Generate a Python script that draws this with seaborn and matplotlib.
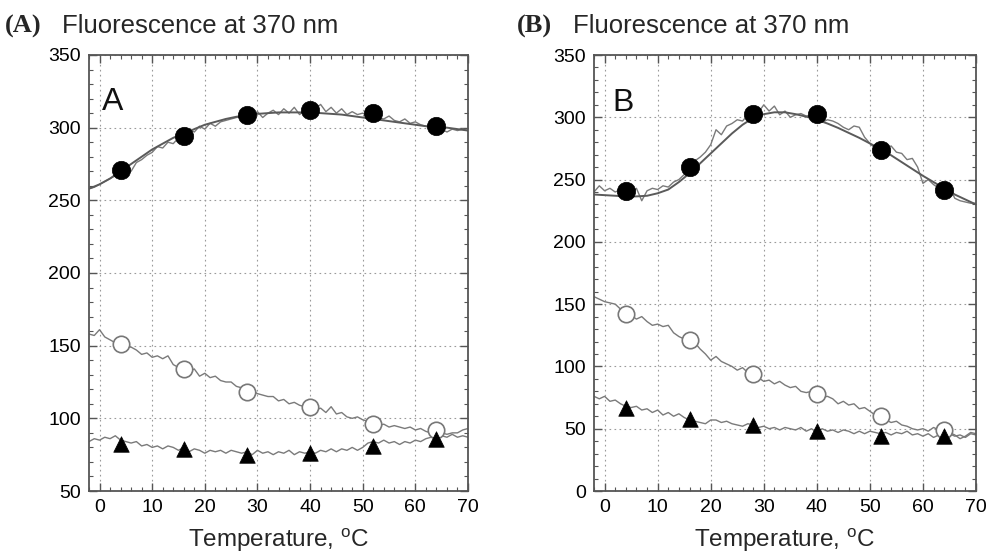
import numpy as np
import pandas as pd
import matplotlib
matplotlib.use("Agg")
import matplotlib.pyplot as plt
from matplotlib.ticker import MultipleLocator
import seaborn as sns

# ---------------- data ----------------
marker_temps = [4, 16, 28, 40, 52, 64]

a_filled_pts = [271, 294, 309, 312, 310, 301]
a_open_pts = [151, 134, 118, 108, 96, 92]
a_tri_pts = [82, 79, 75, 76, 81, 86]

b_filled_pts = [241, 260, 303, 303, 274, 242]
b_open_pts = [142, 121, 94, 78, 60, 49]
b_tri_pts = [67, 58, 53, 48, 44, 44]

trace_temps = list(range(-2, 71))

a_filled_trace = [258, 259, 261, 263, 265, 267, 269, 272, 270, 276, 278, 281, 283, 287, 286,
                  290, 289, 293, 295, 299, 297, 301, 299, 303, 301, 304, 305, 306, 307, 308,
                  307, 309, 311, 307, 310, 312, 309, 313, 310, 314, 309, 312, 311, 313, 316,
                  311, 314, 310, 313, 309, 311, 309, 310, 308, 309, 307, 306, 308, 305, 304,
                  306, 303, 304, 302, 301, 300, 302, 299, 297, 299, 298, 299, 298]
a_open_trace = [158, 157, 161, 156, 154, 152, 151, 149, 149, 147, 144, 145, 142, 143, 141,
                143, 137, 135, 133, 132, 134, 129, 131, 128, 129, 126, 125, 125, 122, 121,
                119, 119, 117, 116, 115, 115, 112, 113, 110, 111, 109, 108, 107, 106, 107,
                104, 108, 103, 104, 101, 100, 101, 99, 98, 97, 95, 96, 94, 95, 94,
                93, 94, 92, 93, 91, 90, 91, 90, 89, 90, 90, 92, 93]
a_tri_trace = [84, 86, 85, 87, 86, 88, 85, 84, 83, 84, 81, 82, 80, 81, 79,
               81, 80, 78, 80, 77, 79, 78, 76, 78, 77, 78, 76, 78, 77, 76,
               77, 75, 78, 76, 77, 75, 77, 76, 78, 75, 77, 76, 77, 76, 78,
               77, 79, 77, 79, 78, 80, 78, 80, 83, 84, 83, 85, 83, 84, 82,
               84, 83, 85, 84, 86, 87, 86, 88, 87, 89, 87, 88, 87]

b_filled_trace = [240, 245, 241, 243, 240, 242, 241, 239, 243, 233, 241, 243, 242, 245, 244,
                  248, 250, 254, 260, 265, 268, 272, 278, 290, 286, 293, 295, 298, 297, 302,
                  301, 304, 310, 305, 309, 302, 305, 300, 302, 303, 301, 302, 300, 296, 298,
                  297, 295, 292, 290, 293, 292, 284, 279, 275, 278, 274, 277, 272, 271, 266,
                  267, 260, 247, 250, 246, 243, 240, 244, 235, 233, 232, 231, 231]
b_filled_fit = [238, 237.5, 237, 236.5, 236.5, 237, 239, 242, 248, 255, 263, 271, 279, 287,
                294, 299.5, 302.5, 304, 304, 302.5, 300.5, 298, 295, 291.5, 287.5, 283.5,
                279, 274.5, 269.5, 264, 258.5, 253, 248, 243, 238, 234, 230]
a_filled_fit = [258, 261, 265, 270, 275, 280, 285, 289, 293, 296, 299, 302, 304, 306,
                307.5, 308.5, 309.5, 310, 310.5, 310.5, 310.5, 310.5, 310, 309.5, 309, 308,
                307, 306, 305, 304, 303, 302, 301, 300.5, 300, 299, 298]
fit_temps = list(range(-2, 71, 2))

b_open_trace = [156, 154, 152, 151, 150, 146, 143, 141, 138, 140, 136, 133, 134, 132, 133,
                127, 124, 122, 120, 119, 114, 110, 105, 108, 104, 102, 100, 97, 99, 95,
                93, 91, 88, 89, 86, 88, 85, 83, 84, 80, 79, 80, 77, 75, 76,
                74, 70, 72, 69, 70, 66, 67, 64, 61, 58, 57, 55, 56, 53, 52,
                50, 49, 50, 48, 51, 49, 47, 47, 45, 42, 44, 47, 46]
b_tri_trace = [76, 74, 76, 72, 73, 70, 68, 67, 68, 65, 66, 63, 65, 61, 63,
               60, 62, 59, 57, 56, 55, 54, 57, 57, 55, 56, 54, 53, 52, 54,
               53, 51, 52, 50, 51, 49, 51, 50, 49, 51, 48, 50, 47, 50, 48,
               49, 47, 49, 48, 46, 48, 46, 48, 47, 46, 47, 45, 47, 46, 48,
               45, 46, 44, 46, 43, 45, 44, 46, 44, 45, 43, 46, 45]

# ---------------- style ----------------
sns.set_style("ticks")
plt.rcParams["font.family"] = ["Liberation Sans", "DejaVu Sans"]
plt.rcParams["mathtext.fontset"] = "custom"
plt.rcParams["mathtext.rm"] = "Liberation Sans"

LINE = "#7a7a7a"
FIT = "#5a5a5a"
SPINE = "#555555"

fig = plt.figure(figsize=(9.89, 5.53), dpi=100)
axA = fig.add_axes([89 / 989, 1 - 491 / 553, 379 / 989, 436 / 553])
axB = fig.add_axes([594 / 989, 1 - 491 / 553, 382 / 989, 436 / 553])


def panel(ax, filled_tr, open_tr, tri_tr, fit, filled_p, open_p, tri_p, ylim, letter, letter_xy):
    sns.lineplot(x=trace_temps, y=filled_tr, ax=ax, color=LINE, lw=1.0, zorder=2)
    sns.lineplot(x=fit_temps, y=fit, ax=ax, color=FIT, lw=1.4, zorder=2)
    sns.lineplot(x=trace_temps, y=open_tr, ax=ax, color=LINE, lw=1.0, zorder=2)
    sns.lineplot(x=trace_temps, y=tri_tr, ax=ax, color=LINE, lw=1.0, zorder=2)
    sns.scatterplot(x=marker_temps, y=filled_p, ax=ax, marker="o", s=175,
                    color="black", edgecolor="black", linewidth=0.5, zorder=4)
    sns.scatterplot(x=marker_temps, y=open_p, ax=ax, marker="o", s=140,
                    facecolor="white", edgecolor="#777777", linewidth=1.2, zorder=4)
    sns.scatterplot(x=marker_temps, y=tri_p, ax=ax, marker="^", s=125,
                    color="black", edgecolor="black", linewidth=0.5, zorder=4)
    ax.set_xlim(-2, 70)
    ax.set_ylim(*ylim)
    ax.xaxis.set_major_locator(MultipleLocator(10))
    ax.xaxis.set_minor_locator(MultipleLocator(2))
    ax.yaxis.set_major_locator(MultipleLocator(50))
    ax.yaxis.set_minor_locator(MultipleLocator(10))
    ax.tick_params(which="both", direction="in", top=True, right=True, colors=SPINE,
                   labelcolor="black", labelsize=14, pad=6)
    ax.tick_params(which="major", length=6, width=1.0)
    ax.tick_params(which="minor", length=3, width=0.8)
    for sp in ax.spines.values():
        sp.set_visible(True)
        sp.set_color(SPINE)
        sp.set_linewidth(1.3)
    ax.grid(True, which="major", color="#9a9a9a", lw=0.8, linestyle=(0, (1.5, 3)))
    ax.set_axisbelow(True)
    ax.set_xlabel(r"Temperature, $^{\mathrm{o}}$C", fontsize=17.5, labelpad=7)
    ax.set_ylabel("")
    ax.text(letter_xy[0], letter_xy[1], letter, fontsize=23, ha="left", va="baseline",
            color="#111111")


panel(axA, a_filled_trace, a_open_trace, a_tri_trace, a_filled_fit,
      a_filled_pts, a_open_pts, a_tri_pts, (50, 350), "A", (0.4, 312))
panel(axB, b_filled_trace, b_open_trace, b_tri_trace, b_filled_fit,
      b_filled_pts, b_open_pts, b_tri_pts, (0, 350), "B", (1.5, 305))

for x0, x1, lab in [(5, 62, "(A)"), (517, 573, "(B)")]:
    fig.text(x0 / 989, 1 - 33 / 553, lab, fontsize=19, fontweight="bold",
             family=["Liberation Serif", "DejaVu Serif"], va="baseline", ha="left")
    fig.text(x1 / 989, 1 - 33 / 553, "Fluorescence at 370 nm", fontsize=18.5,
             va="baseline", ha="left")

fig.savefig("out.png", dpi=100, facecolor="white")
